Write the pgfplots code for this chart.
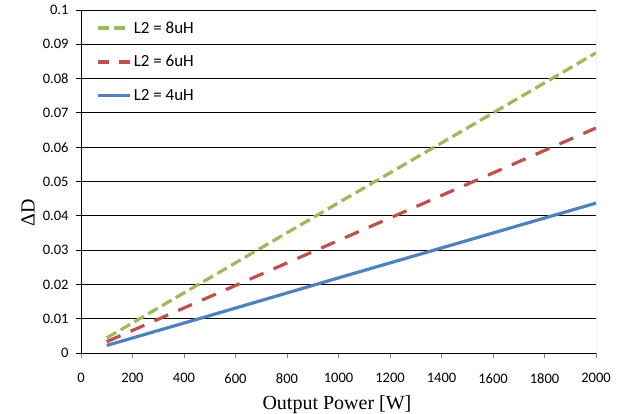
\documentclass[border=0pt]{standalone}
\usepackage{fontspec}
\setmainfont{Carlito}
\newfontfamily\timesfont{Liberation Serif}
\usepackage{pgfplots}
\pgfplotsset{compat=1.18}
\definecolor{xlgreen}{RGB}{155,187,89}
\definecolor{xlred}{RGB}{192,80,77}
\definecolor{xlblue}{RGB}{79,129,189}
\begin{document}
\begin{tikzpicture}
\path[use as bounding box] (-81bp,-61bp) rectangle (538bp,353bp);
\begin{axis}[
  scale only axis,
  width=515bp, height=343bp,
  xmin=0, xmax=2000, ymin=0, ymax=0.1,
  xtick={0,200,...,2000},
  ytick={0,0.01,...,0.1},
  axis x line=bottom, axis y line=left,
  axis line style={-, black, line width=0.9bp},
  tick align=outside,
  major tick length=5bp,
  x tick style={gray, line width=0.8bp},
  y tick style={black, line width=0.8bp},
  ymajorgrids,
  grid style={black, line width=0.9bp},
  scaled y ticks=false,
  /pgf/number format/assume math mode=true,
  /pgf/number format/1000 sep={},
  yticklabel style={/pgf/number format/fixed, /pgf/number format/precision=2, font=\fontsize{14.5bp}{17bp}\selectfont, xshift=-4bp},
  xticklabel style={font=\fontsize{14.5bp}{17bp}\selectfont, yshift=-12bp},
  xlabel={Output Power [W]},
  ylabel={ΔD},
  xlabel style={font=\timesfont\fontsize{20bp}{24bp}\selectfont, at={(axis description cs:0.497,0)}, anchor=center, yshift=-52bp},
  ylabel style={font=\timesfont\fontsize{20bp}{24bp}\selectfont, at={(axis description cs:-0.103,0.41)}, anchor=center},
  legend style={at={(axis description cs:0.026,0.979)}, anchor=north west, draw=none, fill=none,
    font=\fontsize{17bp}{20bp}\selectfont, row sep=17bp, inner sep=2bp,
    nodes={inner sep=2bp}},
  legend cell align=left,
  legend image code/.code={\draw[#1] (0bp,0bp) -- (32bp,0bp);},
]
\addplot[xlgreen, line width=3.2bp, dash pattern=on 11bp off 5bp] coordinates {
  (100,0.0044) (500,0.0219) (1000,0.0438) (1500,0.0656) (2000,0.0875)};
\addlegendentry{L2 = 8uH}
\addplot[xlred, line width=3.2bp, dash pattern=on 15bp off 11bp,
  legend image post style={dash pattern=on 11bp off 10bp}] coordinates {
  (100,0.0033) (500,0.0164) (1000,0.0328) (1500,0.0492) (2000,0.0656)};
\addlegendentry{L2 = 6uH}
\addplot[xlblue, line width=3.2bp] coordinates {
  (100,0.0022) (500,0.0109) (1000,0.0219) (1500,0.0328) (2000,0.0437)};
\addlegendentry{L2 = 4uH}
\draw[gray, line width=1bp] (rel axis cs:1,0) -- (rel axis cs:1,1);
\end{axis}
\end{tikzpicture}
\end{document}
